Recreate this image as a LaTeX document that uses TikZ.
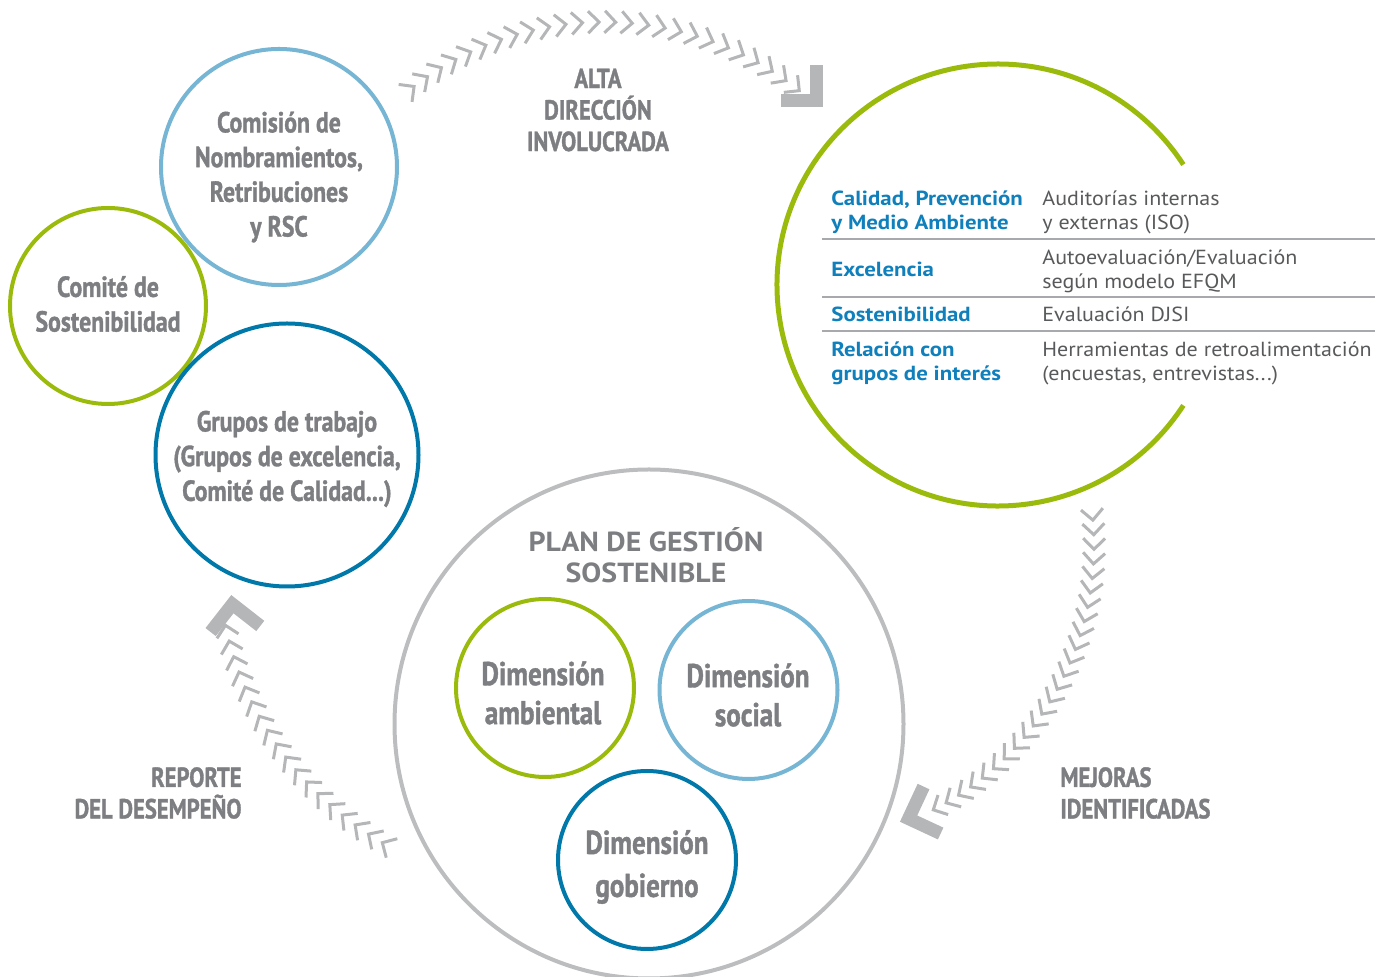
\documentclass[tikz,border=0pt]{standalone}
\usepackage{fontspec}
\setmainfont{PT Sans}
\newfontfamily\condf[FakeStretch=0.82,FakeBold=1.2]{PT Sans}
\newfontfamily\planf[FakeStretch=1.08]{PT Sans}
\newfontfamily\tblf[FakeStretch=1.08]{PT Sans}
\newfontfamily\tbbf[FakeStretch=1.12]{PT Sans}
\usetikzlibrary{calc}
\definecolor{cgreen}{RGB}{155,187,12}
\definecolor{clblue}{RGB}{118,181,211}
\definecolor{cdblue}{RGB}{0,120,169}
\definecolor{cgray}{RGB}{188,189,191}
\definecolor{ctext}{RGB}{125,126,129}
\definecolor{ctblue}{RGB}{16,128,189}
\definecolor{ctgray}{RGB}{88,89,91}
\definecolor{cline}{RGB}{167,169,172}
\definecolor{chevc}{RGB}{181,182,184}
\begin{document}
\begin{tikzpicture}[x=0.5pt,y=-0.5pt,
  ring/.style={circle, draw, line width=2pt, inner sep=0pt, outer sep=0pt, minimum size=#1 pt},
  ctxt/.style={font=\condf\bfseries\fontsize{14.5}{17.35}\selectfont, text=ctext, align=center, inner sep=0pt},
  lbl/.style={font=\condf\bfseries\fontsize{13.8}{15.75}\selectfont, text=ctext, inner sep=0pt},
  dtxt/.style={font=\condf\bfseries\fontsize{16.5}{19.5}\selectfont, text=ctext, align=center, inner sep=0pt},
  plantxt/.style={font=\planf\bfseries\fontsize{13.8}{15.5}\selectfont, text=ctext, align=center, inner sep=0pt},
  tblue/.style={font=\tbbf\bfseries\fontsize{10.2}{12}\selectfont, text=ctblue, anchor=base west, inner sep=0pt},
  tgray/.style={font=\tblf\fontsize{10.2}{12}\selectfont, text=ctgray, anchor=base west, inner sep=0pt},
  tline/.style={draw=cline, line width=0.8pt},
  chev/.style={draw=chevc, line width=1.5pt, line join=miter, line cap=butt},
  bigchev/.style={draw=chevc, line width=6.5pt, line join=miter, line cap=butt}
]
\useasboundingbox (0,0) rectangle (1383,977);

% ---------- chevron arcs ----------
\coordinate (ctop) at (604,334);
\coordinate (cright) at (797,546);
\coordinate (cleft) at (549.3,556.9);
% top arc
\foreach \i in {0,...,25}{
  \pgfmathsetmacro\a{-127.5+\i*3.05}
  \begin{scope}[shift={($(ctop)+(\a:312)$)}, rotate=-(\a+90)]
    \draw[chev] (-11,-11) -- (0,0) -- (-11,11);
  \end{scope}
}
% right arc
\foreach \i in {0,...,24}{
  \pgfmathsetmacro\a{-5+\i*2.82}
  \begin{scope}[shift={($(cright)+(\a:297)$)}, rotate=-(\a+90)]
    \draw[chev] (-11,-11) -- (0,0) -- (-11,11);
  \end{scope}
}
% left arc
\foreach \i in {0,...,17}{
  \pgfmathsetmacro\a{120.3+\i*2.81}
  \begin{scope}[shift={($(cleft)+(\a:331)$)}, rotate=-(\a+90)]
    \draw[chev] (-11,-11) -- (0,0) -- (-11,11);
  \end{scope}
}
% big chevrons
\coordinate (bt) at (816.5,100.5);
\coordinate (br) at (908.6,818.6);
\coordinate (bl) at (232.4,604.2);
\begin{scope}[shift={(bt)}, rotate=-45]
  \draw[bigchev] (-25,-25) -- (0,0) -- (-25,25);
\end{scope}
\begin{scope}[shift={(br)}, rotate=-160]
  \draw[bigchev] (-25,-25) -- (0,0) -- (-25,25);
\end{scope}
\begin{scope}[shift={(bl)}, rotate=-263]
  \draw[bigchev] (-25,-25) -- (0,0) -- (-25,25);
\end{scope}

% ---------- left circles ----------
\node[ring=118, draw=clblue] (comision) at (279,167) {};
\node[ring=98, draw=cgreen] (comite) at (108,306) {};
\node[ring=131.5, draw=cdblue] (grupos) at (287,455) {};
\node[ctxt] (comisionT) at (279,177) {Comisión de\\Nombramientos,\\Retribuciones\\y RSC};
\node[ctxt] (comiteT) at (108,304) {Comité de\\Sostenibilidad};
\node[ctxt] (gruposT) at (287,459) {Grupos de trabajo\\(Grupos de excelencia,\\Comité de Calidad...)};

% ---------- labels ----------
\node[lbl, align=center] (alta) at (598,110) {ALTA\\DIRECCIÓN\\INVOLUCRADA};
\node[lbl, align=right, anchor=east] (reporte) at (242,793) {REPORTE\\DEL DESEMPEÑO};
\node[lbl, align=left, anchor=west] (mejoras) at (1060,793) {MEJORAS\\IDENTIFICADAS};

% ---------- plan circle ----------
\node[ring=254.5, draw=cgray] (plan) at (649,724) {};
\node[plantxt] (planT) at (646,555) {PLAN DE GESTIÓN\\SOSTENIBLE};
\node[ring=89, draw=cgreen] (amb) at (545,688) {};
\node[ring=89, draw=clblue] (soc) at (748.5,690) {};
\node[ring=89, draw=cdblue] (gob) at (647,860) {};
\node[dtxt] (ambT) at (543,693) {Dimensión\\ambiental};
\node[dtxt] (socT) at (748,695) {Dimensión\\social};
\node[dtxt, font=\condf\bfseries\fontsize{16.5}{21.5}\selectfont] (gobT) at (647,867) {Dimensión\\gobierno};

% ---------- big green arc ----------
\coordinate (gc) at (998,285);
\draw[cgreen, line width=2.5pt] ($(gc)+(33:221)$) arc[start angle=33, end angle=327, radius=221];

% ---------- table ----------
\coordinate (lineL) at (822,0);
\coordinate (lineR) at (1375,0);
\draw[tline] (lineL |- 0,239.3) -- (lineR |- 0,239.3);
\draw[tline] (lineL |- 0,297.3) -- (lineR |- 0,297.3);
\draw[tline] (lineL |- 0,331) -- (lineR |- 0,331);

\node[tblue] (r1a) at (831,206) {Calidad, Prevención};
\node[tblue] (r1b) at (831,230) {y Medio Ambiente};
\node[tgray] (r1c) at (1042,206) {Auditorías internas};
\node[tgray] (r1d) at (1042,230) {y externas (ISO)};
\node[tblue] (r2a) at (831,276.7) {Excelencia};
\node[tgray] (r2c) at (1042,265) {Autoevaluación/Evaluación};
\node[tgray] (r2d) at (1042,288.5) {según modelo EFQM};
\node[tblue] (r3a) at (831,321.7) {Sostenibilidad};
\node[tgray] (r3c) at (1042,321.7) {Evaluación DJSI};
\node[tblue] (r4a) at (831,356.7) {Relación con};
\node[tblue] (r4b) at (831,380.5) {grupos de interés};
\node[tgray] (r4c) at (1042,356.7) {Herramientas de retroalimentación};
\node[tgray] (r4d) at (1042,380.5) {(encuestas, entrevistas...)};
\end{tikzpicture}
\end{document}
